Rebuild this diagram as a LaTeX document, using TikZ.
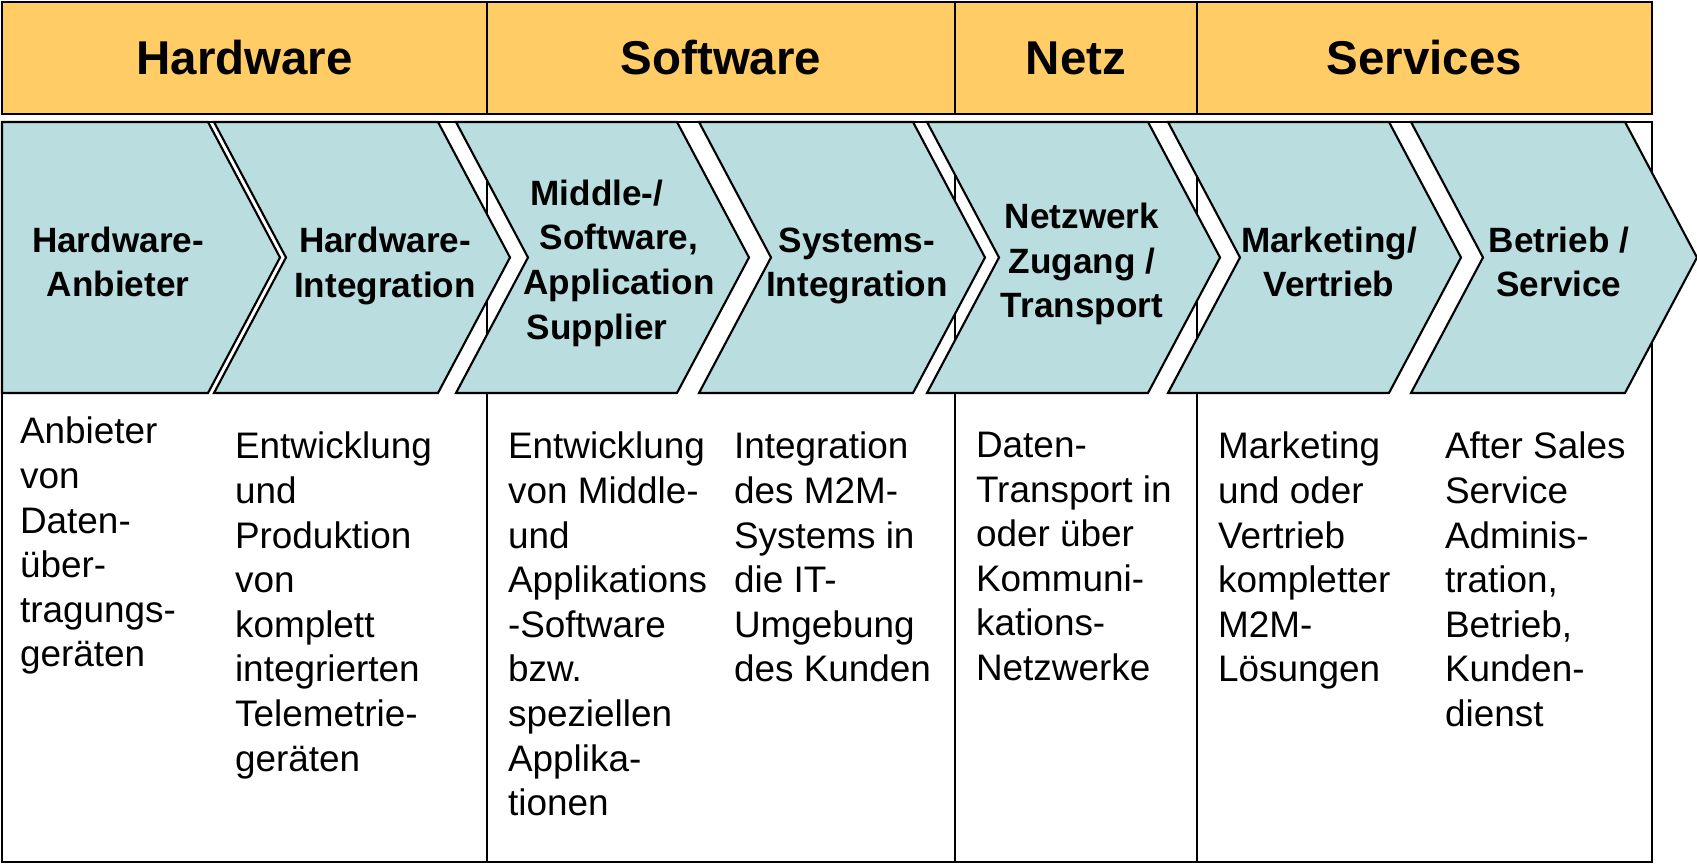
\documentclass[tikz,border=0pt]{standalone}
\usepackage{fontspec}
\setmainfont{Liberation Sans}
\definecolor{barorange}{RGB}{255,204,102}
\definecolor{chevblue}{RGB}{186,221,224}

\begin{document}
\begin{tikzpicture}[
  line width=0.6pt,
  head/.style={font=\fontsize{13.5}{16}\selectfont\bfseries},
  chev/.style={draw=black, fill=chevblue, line join=miter},
  chevtext/.style={align=center, inner sep=0pt, font=\fontsize{10}{12.7}\selectfont\bfseries},
  desc/.style={anchor=north west, align=left, inner sep=0pt, font=\fontsize{10.5}{12.7}\selectfont}
]
\useasboundingbox (0,0) rectangle (16.97,-8.64);

% top bar
\draw [fill=barorange] (0.02,-0.02) rectangle (16.52,-1.14);
\draw (4.87,-0.02) -- (4.87,-1.14);
\draw (9.55,-0.02) -- (9.55,-1.14);
\draw (11.97,-0.02) -- (11.97,-1.14);

\node [head] (hw) at (2.445,-0.58) {Hardware};
\node [head] (sw) at (7.21,-0.58) {Software};
\node [head] (netz) at (10.76,-0.58) {Netz};
\node [head] (serv) at (14.245,-0.58) {Services};

% lower box and column lines
\draw (0.02,-1.22) rectangle (16.52,-8.62);
\draw (4.87,-1.22) -- (4.87,-8.62);
\draw (9.55,-1.22) -- (9.55,-8.62);
\draw (11.97,-1.22) -- (11.97,-8.62);

% chevrons
\draw [chev] (0.02,-1.22) -- (2.08,-1.22) -- (2.80,-2.575) -- (2.08,-3.93) -- (0.02,-3.93) -- cycle;
\draw [chev] (2.14,-1.22) -- (4.38,-1.22) -- (5.10,-2.575) -- (4.38,-3.93) -- (2.14,-3.93) -- (2.86,-2.575) -- cycle;
\draw [chev] (4.56,-1.22) -- (6.77,-1.22) -- (7.49,-2.575) -- (6.77,-3.93) -- (4.56,-3.93) -- (5.28,-2.575) -- cycle;
\draw [chev] (6.99,-1.22) -- (9.13,-1.22) -- (9.85,-2.575) -- (9.13,-3.93) -- (6.99,-3.93) -- (7.71,-2.575) -- cycle;
\draw [chev] (9.27,-1.22) -- (11.48,-1.22) -- (12.20,-2.575) -- (11.48,-3.93) -- (9.27,-3.93) -- (9.99,-2.575) -- cycle;
\draw [chev] (11.68,-1.22) -- (13.89,-1.22) -- (14.61,-2.575) -- (13.89,-3.93) -- (11.68,-3.93) -- (12.40,-2.575) -- cycle;
\draw [chev] (14.11,-1.22) -- (16.25,-1.22) -- (16.97,-2.575) -- (16.25,-3.93) -- (14.11,-3.93) -- (14.83,-2.575) -- cycle;

\node [chevtext] (hwanb) at (1.18,-2.62) {Hardware-\\Anbieter};
\node [chevtext] (hwint) at (3.85,-2.66) {Hardware-\\Integration};
\node [chevtext] (mid) at (6.19,-2.63) {Middle-/\hspace*{0.44cm}\\Software,\\Application\\Supplier\hspace*{0.44cm}};
\node [chevtext] (sysint) at (8.57,-2.66) {Systems-\\Integration};
\node [chevtext] (netzz) at (10.82,-2.64) {Netzwerk\\Zugang /\\Transport};
\node [chevtext] (mark) at (13.29,-2.62) {Marketing/\\Vertrieb};
\node [chevtext] (betr) at (15.59,-2.62) {Betrieb /\\Service};

% descriptions
\node [desc] (d1) at (0.19,-4.16) {Anbieter\\von\\Daten-\\über-\\tragungs-\\geräten};
\node [desc] (d2) at (2.34,-4.31) {Entwicklung\\und\\Produktion\\von\\komplett\\integrierten\\Telemetrie-\\geräten};
\node [desc] (d3) at (5.07,-4.31) {Entwicklung\\von Middle-\\und\\Applikations\\-Software\\bzw.\\speziellen\\Applika-\\tionen};
\node [desc] (d4) at (7.33,-4.31) {Integration\\des M2M-\\Systems in\\die IT-\\Umgebung\\des Kunden};
\node [desc] (d5) at (9.75,-4.31) {Daten-\\Transport in\\oder über\\Kommuni-\\kations-\\Netzwerke};
\node [desc] (d6) at (12.17,-4.31) {Marketing\\und oder\\Vertrieb\\kompletter\\M2M-\\Lösungen};
\node [desc] (d7) at (14.44,-4.31) {After Sales\\Service\\Adminis-\\tration,\\Betrieb,\\Kunden-\\dienst};
\end{tikzpicture}
\end{document}
